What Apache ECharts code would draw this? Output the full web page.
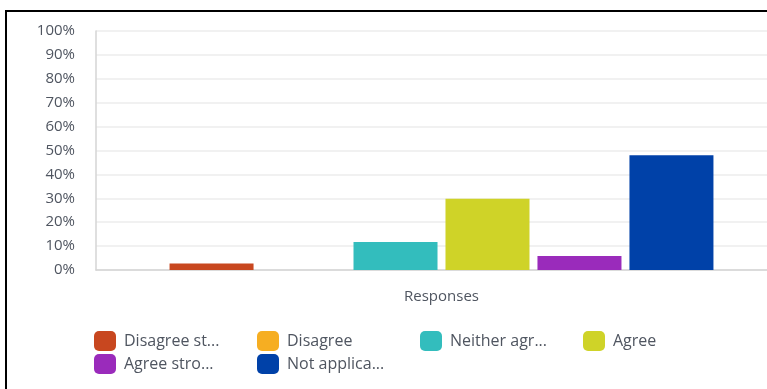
<!DOCTYPE html>
<html>
<head>
<meta charset="utf-8">
<script src="https://cdn.jsdelivr.net/npm/echarts@6/dist/echarts.min.js"></script>
<style>
  html, body { margin: 0; padding: 0; background: #fff; }
  #chart { width: 767px; height: 389px; }
</style>
</head>
<body>
<div id="chart"></div>
<script>
// Survey answers, share of responses (%)
const categories = ['Responses'];
const seriesNames = [
  'Disagree strongly',
  'Disagree',
  'Neither agree nor disagree',
  'Agree',
  'Agree strongly',
  'Not applicable'
];
const seriesValues = [2.7, 0, 11.7, 29.8, 5.9, 48.0];
const seriesColors = ['#C8471F', '#F6AE22', '#33BDBD', '#CFD328', '#9A2BBB', '#0041A8'];
const yTicks = [0, 10, 20, 30, 40, 50, 60, 70, 80, 90, 100];

const textColor = '#4f5560';
const fontFamily = '"Open Sans", Lato, sans-serif';

const chart = echarts.init(document.getElementById('chart'), null, { renderer: 'canvas' });

const series = seriesNames.map((name, i) => ({
  name: name,
  type: 'bar',
  data: [seriesValues[i]],
  barWidth: 84,
  barGap: '9.5%',
  itemStyle: { color: seriesColors[i] },
  emphasis: { disabled: true }
}));

// one legend entry per slot so every slot has the same width (4 per row)
const legends = seriesNames.map((name, i) => ({
  data: [name],
  icon: 'roundRect',
  itemWidth: 22,
  itemHeight: 20,
  padding: 0,
  left: 94 + 163 * (i % 4),
  top: i < 4 ? 331 : 354,
  selectedMode: false,
  textStyle: {
    color: textColor,
    fontFamily: fontFamily,
    fontSize: 16,
    padding: [0, 0, 0, 3],
    width: 101,
    overflow: 'truncate',
    ellipsis: '...'
  }
}));

chart.setOption({
  animation: false,
  backgroundColor: '#fff',
  graphic: [{
    type: 'rect',
    shape: { x: 6, y: 11, width: 820, height: 420 },
    style: { fill: 'none', stroke: '#000', lineWidth: 2 },
    silent: true,
    z: 100
  }],
  legend: legends,
  // plot area runs past the right edge of the canvas
  grid: {
    left: 96, right: -20, top: 31, bottom: 119,
    containLabel: false,
    outerBoundsMode: 'none'
  },
  xAxis: {
    type: 'category',
    data: categories,
    axisLine: { show: true, lineStyle: { color: '#d4d4d4', width: 1.5 } },
    axisTick: { show: false },
    axisLabel: { color: textColor, fontFamily: fontFamily, fontSize: 15, margin: 19 }
  },
  yAxis: {
    type: 'value',
    min: yTicks[0],
    max: yTicks[yTicks.length - 1],
    interval: 10,
    axisLine: { show: true, lineStyle: { color: '#d4d4d4', width: 1.5 } },
    axisTick: { show: false },
    splitLine: { lineStyle: { color: '#ececec', width: 1.5 } },
    axisLabel: {
      color: textColor,
      fontFamily: fontFamily,
      fontSize: 15,
      margin: 21,
      formatter: v => v + '%'
    }
  },
  series: series
});
</script>
</body>
</html>
